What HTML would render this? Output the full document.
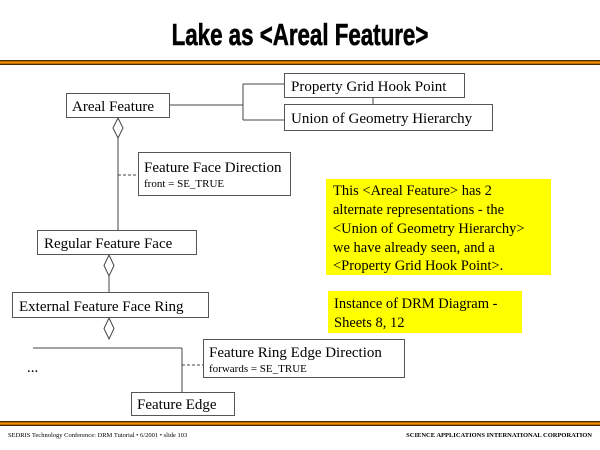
<!DOCTYPE html>
<html><head><meta charset="utf-8"><style>
html,body{margin:0;padding:0;background:#fff;}
svg{display:block;}
.t{font-family:"Liberation Serif",serif;font-size:15px;fill:#000;}
.y{font-family:"Liberation Serif",serif;font-size:14.5px;fill:#000;}
.s{font-family:"Liberation Serif",serif;font-size:11px;fill:#000;}
</style></head><body>
<svg width="600" height="450" viewBox="0 0 600 450" xmlns="http://www.w3.org/2000/svg">
<rect width="600" height="450" fill="#fff"/>
<text x="300" y="45" text-anchor="middle" font-family="Liberation Sans, sans-serif" font-weight="bold" font-size="31" transform="translate(300 0) scale(0.72 1) translate(-300 0)" fill="#000" stroke="#000" stroke-width="0.6">Lake as &lt;Areal Feature&gt;</text>
<rect x="0" y="60" width="600" height="5" fill="#f08c00"/>
<rect x="0" y="60" width="600" height="1.3" fill="#4a2a00"/>
<rect x="0" y="63.7" width="600" height="1.3" fill="#4a2a00"/>
<rect x="0" y="421" width="600" height="5" fill="#f08c00"/>
<rect x="0" y="421" width="600" height="1.3" fill="#4a2a00"/>
<rect x="0" y="424.7" width="600" height="1.3" fill="#4a2a00"/>
<text x="8" y="437" font-family="Liberation Serif,serif" font-size="6.5" fill="#000">SEDRIS Technology Conference: DRM Tutorial • 6/2001 • slide 103</text>
<text x="592" y="437" text-anchor="end" font-family="Liberation Serif,serif" font-weight="bold" font-size="6.5" fill="#000">SCIENCE APPLICATIONS INTERNATIONAL CORPORATION</text>

<g fill="none" stroke="#444" stroke-width="1">
<line x1="169" y1="105" x2="243" y2="105"/>
<line x1="243" y1="84" x2="243" y2="120"/>
<line x1="243" y1="84" x2="285" y2="84"/>
<line x1="243" y1="120" x2="285" y2="120"/>
<line x1="373" y1="98" x2="373" y2="104"/>
<line x1="118" y1="138" x2="118" y2="230"/>
<line x1="109" y1="276" x2="109" y2="292"/>
<line x1="33" y1="348" x2="182" y2="348"/>
<line x1="182" y1="348" x2="182" y2="392"/>
<line x1="118" y1="175" x2="138" y2="175" stroke-dasharray="3,2"/>
<line x1="182" y1="365" x2="203" y2="365" stroke-dasharray="3,2"/>
<polygon points="118,118 123,128 118,138 113,128" fill="#fff"/>
<polygon points="109,255 114,265.5 109,276 104,265.5" fill="#fff"/>
<polygon points="109,318 114,328.5 109,339 104,328.5" fill="#fff"/>
</g>
<g fill="#fff" stroke="#555" stroke-width="1">
<rect x="66.5" y="93.5" width="103" height="24"/>
<rect x="284.5" y="73.5" width="180" height="24"/>
<rect x="284.5" y="104.5" width="208" height="26"/>
<rect x="138.5" y="152.5" width="152" height="43"/>
<rect x="37.5" y="230.5" width="159" height="24"/>
<rect x="12.5" y="292.5" width="196" height="25"/>
<rect x="203.5" y="339.5" width="201" height="38"/>
<rect x="131.5" y="392.5" width="103" height="23"/>
</g>
<text class="t" x="72" y="111">Areal Feature</text>
<text class="t" x="291" y="91">Property Grid Hook Point</text>
<text class="t" x="291" y="123">Union of Geometry Hierarchy</text>
<text class="t" x="144" y="172">Feature Face Direction</text>
<text class="s" x="144" y="187">front = SE_TRUE</text>
<text class="t" x="44" y="248">Regular Feature Face</text>
<text class="t" x="19" y="311">External Feature Face Ring</text>
<text class="t" x="209" y="357">Feature Ring Edge Direction</text>
<text class="s" x="209" y="372">forwards = SE_TRUE</text>
<text class="t" x="137" y="409">Feature Edge</text>
<text class="t" x="27" y="372">...</text>

<rect x="326" y="179" width="225" height="96" fill="#ffff00"/>
<text class="y" x="333" y="195">This &lt;Areal Feature&gt; has 2</text>
<text class="y" x="333" y="214">alternate representations - the</text>
<text class="y" x="333" y="233">&lt;Union of Geometry Hierarchy&gt;</text>
<text class="y" x="333" y="252">we have already seen, and a</text>
<text class="y" x="333" y="270">&lt;Property Grid Hook Point&gt;.</text>
<rect x="328" y="291" width="194" height="42" fill="#ffff00"/>
<text class="y" x="334" y="308">Instance of DRM Diagram -</text>
<text class="y" x="334" y="327">Sheets 8, 12</text>
</svg>
</body></html>
